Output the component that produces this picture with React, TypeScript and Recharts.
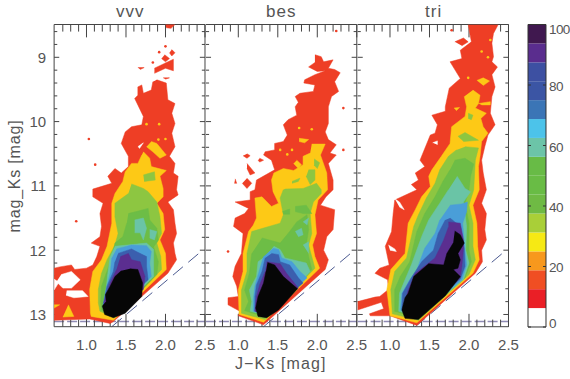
// J-Ks vs mag_Ks filled density contours: vvv, bes, tri panels with a colour bar
import { Bar, BarChart, ReferenceLine, Scatter, ScatterChart, XAxis, YAxis } from 'recharts';

type Pt = [number, number];

const xMajor = [1, 1.5, 2, 2.5];
const xMinor = [0.7, 0.8, 0.9, 1.1, 1.2, 1.3, 1.4, 1.6, 1.7, 1.8, 1.9, 2.1, 2.2, 2.3, 2.4];
const yMajor = [9, 10, 11, 12, 13];
const yMinor = [8.6, 8.8, 9.2, 9.4, 9.6, 9.8, 10.2, 10.4, 10.6, 10.8, 11.2, 11.4, 11.6, 11.8, 12.2, 12.4, 12.6, 12.8];
const barTicks = [0, 20, 40, 60, 80, 100];
const barLevels = ['#ffffff', '#ea1f26', '#f04e23', '#f7981d', '#f6e914', '#a9cf38', '#6fba44', '#69bc45', '#68bb46', '#6cc4a8', '#4cc3ea', '#3b75b6', '#3b55a4', '#3d50a2', '#5a2d8e', '#40184f'];
const barStep = [6.25];

const vvvRed: Pt[][] = [
  [[1.89, 9.35], [2.01, 9.4], [2.03, 9.66], [2.12, 9.72], [2.08, 9.87], [2.12, 10.03], [2.08, 10.18], [2.12, 10.39], [2.05, 10.54], [2.12, 10.65], [2.1, 10.8], [2.16, 10.85], [2.14, 11.06], [2.16, 11.14], [2.03, 11.25], [2.1, 11.37], [2.12, 11.58], [2.14, 11.74], [2.1, 11.89], [2.12, 12.05], [2.14, 12.15], [2.03, 12.36], [1.34, 13.11], [1.3, 13.14], [1.04, 13.07], [0.59, 13.09], [0.59, 12.28], [0.66, 12.26], [0.81, 12.23], [0.85, 12.3], [1, 12.28], [1.08, 12.23], [1.13, 12.1], [1.17, 11.94], [1.06, 11.89], [1.17, 11.79], [1.19, 11.63], [1.17, 11.43], [1.21, 11.27], [1.08, 11.17], [1.08, 11.05], [1.32, 10.96], [1.27, 10.85], [1.36, 10.73], [1.44, 10.8], [1.53, 10.7], [1.53, 10.54], [1.44, 10.34], [1.49, 10.16], [1.57, 10.08], [1.7, 10.05], [1.72, 9.92], [1.61, 9.64], [1.65, 9.59], [1.65, 9.46], [1.7, 9.43], [1.72, 9.56], [1.82, 9.51], [1.84, 9.38]],
  [[2, 8.49], [2.12, 8.49], [2.07, 8.55], [2.01, 8.54]],
  [[2.08, 8.88], [2.12, 8.93], [2.08, 8.98], [2.05, 8.93]],
  [[1.99, 8.96], [2.05, 9.02], [2, 9.07], [1.95, 9.02]],
  [[1.86, 9.17], [2.1, 9.03], [2.1, 9.21], [2, 9.17], [1.86, 9.25]],
  [[1.65, 9.16], [1.73, 9.16], [1.68, 9.19]],
  [[1.97, 9.32], [2.05, 9.32], [2, 9.34]],
];
const vvvHoles: Pt[][] = [
  [[0.68, 12.38], [0.81, 12.33], [0.92, 12.46], [0.81, 12.59], [0.7, 12.59], [0.62, 12.49]],
  [[0.59, 12.45], [0.65, 12.5], [0.59, 12.62]],
  [[0.75, 12.63], [0.95, 12.63], [1.02, 12.72], [0.84, 12.74], [0.74, 12.7]],
  [[1.65, 10.39], [1.72, 10.33], [1.67, 10.42]],
];
const vvvGold: Pt[][] = [
  [[1.72, 10.47], [1.8, 10.57], [1.82, 10.7], [2.01, 10.76], [1.93, 10.85], [1.97, 11.04], [1.97, 11.17], [1.89, 11.27], [1.97, 11.43], [1.99, 11.68], [1.93, 11.84], [2, 12.05], [2.01, 12.3], [1.34, 13.09], [1.06, 13.03], [1.05, 12.98], [1.04, 12.61], [1.08, 12.33], [1.19, 12.15], [1.26, 11.94], [1.32, 11.58], [1.32, 11.27], [1.36, 11.12], [1.46, 10.93], [1.49, 10.78], [1.57, 10.65], [1.65, 10.65], [1.7, 10.52]],
  [[1.82, 10.31], [1.89, 10.34], [2.01, 10.52], [1.93, 10.57], [1.84, 10.47], [1.76, 10.39]],
  [[0.77, 12.85], [0.84, 13.03], [0.7, 13.04]],
  [[0.59, 12.85], [0.66, 12.85], [0.59, 12.9]],
];
const vvvGreen: Pt[][] = [
  [[1.72, 10.83], [1.86, 10.78], [1.87, 10.91], [1.73, 10.93]],
  [[1.57, 10.97], [1.72, 11.04], [1.78, 11.09], [1.89, 11.25], [1.93, 11.48], [1.95, 11.74], [1.89, 11.89], [1.94, 12.1], [1.95, 12.3], [1.36, 13.05], [1.17, 12.95], [1.15, 12.82], [1.15, 12.61], [1.19, 12.36], [1.26, 12.15], [1.36, 11.92], [1.4, 11.74], [1.36, 11.48], [1.36, 11.27], [1.53, 11.12]],
];
const vvvDeepGreen: Pt[][] = [
  [[1.53, 11.43], [1.63, 11.4], [1.78, 11.35], [1.8, 11.53], [1.89, 11.66], [1.91, 11.84], [1.85, 11.95], [1.91, 12.18], [1.89, 12.38], [1.38, 13.02], [1.19, 12.93], [1.18, 12.8], [1.19, 12.56], [1.25, 12.36], [1.32, 12.12], [1.36, 11.89], [1.46, 11.79], [1.51, 11.58]],
];
const vvvTeal: Pt[][] = [
  [[1.61, 11.53], [1.72, 11.5], [1.76, 11.66], [1.72, 11.84], [1.68, 11.73], [1.61, 11.73]],
  [[1.8, 11.68], [1.89, 11.71], [1.86, 11.84], [1.8, 11.81]],
  [[1.36, 11.94], [1.76, 11.89], [1.85, 11.99], [1.85, 12.18], [1.85, 12.41], [1.38, 12.98], [1.21, 12.9], [1.25, 12.59], [1.27, 12.36], [1.3, 12.1]],
];
const vvvSky: Pt[][] = [[[1.38, 11.98], [1.57, 11.92], [1.76, 11.93], [1.82, 12.02], [1.8, 12.2], [1.82, 12.41], [1.38, 12.95], [1.21, 12.87], [1.25, 12.59], [1.3, 12.36], [1.32, 12.12]]];
const vvvBlue: Pt[][] = [[[1.4, 12.05], [1.57, 11.98], [1.63, 12.02], [1.76, 12.1], [1.76, 12.25], [1.78, 12.46], [1.38, 12.92], [1.21, 12.85], [1.26, 12.56], [1.34, 12.33], [1.36, 12.18]]];
const vvvPurple: Pt[][] = [[[1.43, 12.1], [1.53, 12.05], [1.57, 12.15], [1.68, 12.18], [1.74, 12.41], [1.72, 12.61], [1.38, 12.9], [1.22, 12.82], [1.3, 12.51], [1.38, 12.3]]];
const vvvBlack: Pt[][] = [[[1.55, 12.29], [1.65, 12.3], [1.71, 12.51], [1.7, 12.72], [1.49, 12.98], [1.34, 13.05], [1.23, 13], [1.2, 12.87], [1.25, 12.8], [1.24, 12.69], [1.3, 12.56], [1.36, 12.41], [1.44, 12.32]]];
const vvvRedSpecks: Pt[] = [[2, 8.83], [1.92, 8.92], [1.84, 9.08], [1.03, 10.27], [1.11, 10.67], [0.87, 11.55]];
const vvvGoldSpecks: Pt[] = [[1.76, 10.04], [1.92, 10.04], [1.91, 10.28], [2, 10.27]];

const besRed: Pt[][] = [
  [[1.97, 8.96], [2.05, 8.99], [2.08, 9.07], [2.2, 9.04], [2.14, 9.17], [2.22, 9.19], [2.29, 9.24], [2.22, 9.38], [2.27, 9.53], [2.18, 9.61], [2.14, 9.77], [2.14, 10.03], [2.1, 10.16], [2.14, 10.28], [2.24, 10.36], [2.16, 10.49], [2.24, 10.52], [2.14, 10.65], [2.2, 10.91], [2.2, 11.06], [2.11, 11.17], [2.04, 11.3], [2.22, 11.37], [2.2, 11.68], [2.12, 11.79], [2.08, 12], [2.14, 12.15], [2.1, 12.3], [1.32, 13.16], [1, 13.02], [1.02, 12.95], [0.87, 12.85], [0.87, 12.74], [1, 12.72], [0.98, 12.56], [0.93, 12.41], [0.96, 12.25], [1.04, 12.05], [1.06, 11.74], [0.94, 11.63], [0.96, 11.5], [1.08, 11.43], [1.13, 11.35], [0.96, 11.25], [1.15, 11.22], [1.15, 11.09], [1.21, 11.06], [1.23, 10.91], [1.46, 10.75], [1.42, 10.6], [1.32, 10.52], [1.34, 10.47], [1.46, 10.44], [1.46, 10.34], [1.57, 10.31], [1.62, 10.21], [1.57, 10.05], [1.63, 9.97], [1.74, 9.9], [1.72, 9.77], [1.76, 9.7], [1.72, 9.61], [1.78, 9.56], [1.95, 9.53], [1.97, 9.43], [1.83, 9.4], [1.84, 9.35], [1.97, 9.27], [2.1, 9.21], [2, 9.22], [1.89, 9.15], [1.97, 9.08]],
  [[1.11, 10.5], [1.15, 10.53], [1.11, 10.57], [1.06, 10.53]],
  [[1.11, 10.65], [1.21, 10.8], [1.15, 10.83], [1.11, 10.73]],
  [[1.27, 10.57], [1.32, 10.6], [1.27, 10.63], [1.25, 10.6]],
  [[1.11, 10.88], [1.17, 10.96], [1.11, 11.04], [1.05, 10.96]],
  [[0.96, 10.89], [0.98, 10.96], [0.95, 10.96]],
];
const besGold: Pt[][] = [
  [[1.74, 10.6], [1.8, 10.67], [1.76, 10.73], [1.7, 10.65]],
  [[1.77, 10.26], [1.89, 10.28], [1.84, 10.33], [1.77, 10.31]],
  [[1.93, 10.35], [2.1, 10.35], [2.04, 10.52], [2.12, 10.8], [2.13, 11.06], [2.01, 11.22], [1.97, 11.45], [1.99, 11.74], [1.94, 11.92], [1.97, 12.1], [2.03, 12.28], [1.32, 13.12], [1.01, 13], [1, 12.62], [1.06, 12.33], [1.06, 12.05], [1.13, 11.71], [1.19, 11.61], [1.23, 11.5], [1.21, 11.19], [1.3, 11.17], [1.42, 11.32], [1.51, 11.27], [1.44, 11.09], [1.42, 10.91], [1.45, 10.8], [1.57, 10.73], [1.7, 10.76], [1.82, 10.67], [1.82, 10.54], [1.91, 10.49]],
];
const besGreen: Pt[][] = [
  [[1.96, 10.58], [2.03, 10.64], [2, 10.73], [1.96, 10.68]],
  [[1.89, 10.75], [1.97, 10.75], [1.97, 10.91], [1.91, 10.98], [1.86, 10.85]],
  [[1.68, 10.93], [1.78, 10.88], [1.76, 10.93], [1.68, 10.96]],
  [[1.59, 11.05], [1.82, 11.04], [1.99, 10.96], [2.05, 11.06], [2.05, 11.12], [1.95, 11.25], [1.91, 11.43], [1.93, 11.74], [1.89, 11.92], [1.93, 12.1], [1.97, 12.28], [1.34, 13.08], [1.04, 12.98], [1.04, 12.62], [1.11, 12.33], [1.11, 12.05], [1.17, 11.71], [1.53, 11.58], [1.57, 11.45], [1.53, 11.19], [1.57, 11.06]],
];
const besDeepGreen: Pt[][] = [
  [[1.3, 11.81], [1.53, 11.89], [1.65, 11.71], [1.74, 11.56], [1.87, 11.45], [1.89, 11.68], [1.86, 11.92], [1.9, 12.15], [1.93, 12.3], [1.36, 13.05], [1.08, 12.94], [1.13, 12.8], [1.08, 12.62], [1.14, 12.36], [1.17, 12.05]],
  [[1.72, 11.32], [1.86, 11.3], [1.93, 11.43], [1.82, 11.43], [1.72, 11.4]],
  [[1.56, 11.4], [1.65, 11.36], [1.65, 11.44], [1.57, 11.44]],
];
const besTeal: Pt[][] = [
  [[1.72, 11.71], [1.8, 11.66], [1.82, 11.76], [1.76, 11.79]],
  [[1.82, 11.56], [1.89, 11.5], [1.87, 11.61]],
  [[1.82, 11.92], [1.89, 11.87], [1.89, 12.05]],
  [[1.45, 11.94], [1.53, 11.99], [1.59, 12.12], [1.86, 12.2], [1.91, 12.33], [1.38, 13.02], [1.15, 12.95], [1.17, 12.8], [1.14, 12.62], [1.23, 12.41], [1.25, 12.18], [1.34, 12.1]],
];
const besSky: Pt[][] = [[[1.44, 11.97], [1.51, 11.99], [1.55, 12.12], [1.68, 12.18], [1.78, 12.33], [1.87, 12.43], [1.38, 13], [1.19, 12.95], [1.19, 12.77], [1.21, 12.56], [1.27, 12.3], [1.32, 12.1]]];
const besBlue: Pt[][] = [[[1.42, 12.05], [1.51, 12.07], [1.53, 12.18], [1.65, 12.23], [1.76, 12.43], [1.82, 12.51], [1.38, 12.98], [1.21, 12.95], [1.21, 12.72], [1.23, 12.54], [1.3, 12.33], [1.34, 12.12]]];
const besPurple: Pt[][] = [[[1.36, 12.18], [1.53, 12.21], [1.61, 12.36], [1.76, 12.59], [1.38, 12.97], [1.21, 12.95], [1.23, 12.72], [1.27, 12.54], [1.34, 12.33]]];
const besBlack: Pt[][] = [[[1.37, 12.19], [1.46, 12.23], [1.57, 12.41], [1.75, 12.6], [1.51, 12.93], [1.36, 13.05], [1.25, 13.03], [1.22, 12.9], [1.25, 12.72], [1.32, 12.51], [1.35, 12.33]]];
const besRedSpecks: Pt[] = [[2.24, 8.59], [2.33, 9.79], [2.33, 10.44], [0.87, 12.02]];
const besGoldSpecks: Pt[] = [[1.77, 10.1], [1.53, 10.44], [1.68, 10.44], [1.62, 10.51], [1.93, 10.12]];

const triRed: Pt[][] = [
  [[2.37, 8.49], [2.31, 8.63], [2.29, 8.78], [2.31, 8.99], [2.29, 9.07], [2.36, 9.15], [2.29, 9.27], [2.33, 9.46], [2.29, 9.61], [2.27, 9.87], [2.33, 10.05], [2.24, 10.21], [2.2, 10.39], [2.16, 10.6], [2.18, 10.8], [2.22, 11.06], [2.16, 11.27], [2.22, 11.43], [2.2, 11.68], [2.22, 11.84], [2.16, 12], [2.17, 12.18], [2.08, 12.36], [1.34, 13.17], [1, 13.02], [0.75, 13.02], [0.74, 12.99], [0.92, 12.91], [0.89, 12.81], [0.59, 12.93], [0.59, 12.8], [0.81, 12.73], [0.87, 12.72], [0.98, 12.61], [0.97, 12.46], [0.81, 12.36], [0.87, 12.28], [0.99, 12.23], [0.94, 11.94], [1.02, 11.71], [1.04, 11.43], [1.06, 11.22], [1.34, 11.06], [1.27, 10.98], [1.36, 10.91], [1.32, 10.8], [1.44, 10.7], [1.38, 10.6], [1.51, 10.21], [1.57, 10.18], [1.6, 10.05], [1.53, 9.9], [1.7, 9.84], [1.7, 9.77], [1.75, 9.48], [1.89, 9.33], [1.76, 9.07], [1.91, 9.02], [1.89, 8.89], [2.03, 8.76], [1.99, 8.49]],
  [[1.82, 8.76], [1.93, 8.7], [1.99, 8.76], [1.91, 8.82]],
];
const triHoles: Pt[][] = [
  [[1.06, 11.2], [1.12, 11.25], [1.18, 11.37], [1.12, 11.33]],
  [[0.98, 11.92], [1.06, 11.98], [1.08, 12.02], [1, 12]],
  [[1.54, 10.33], [1.6, 10.3], [1.6, 10.36]],
];
const triGold: Pt[][] = [
  [[2.1, 9.36], [2.18, 9.32], [2.26, 9.37], [2.18, 9.44]],
  [[2.12, 9.72], [2.27, 9.69], [2.27, 9.74], [2.16, 9.74]],
  [[1.81, 9.79], [1.88, 9.78], [1.84, 9.83]],
  [[2.05, 9.51], [2.14, 9.59], [2.12, 9.72], [2.08, 9.79], [2.22, 9.87], [2.15, 9.95], [2.18, 10.08], [2.24, 10.18], [2.16, 10.31], [2.14, 10.54], [2.12, 10.7], [2.13, 11.06], [2.05, 11.3], [2.1, 11.58], [2.11, 11.94], [2.13, 12.15], [2.05, 12.36], [1.34, 13.13], [1, 13.02], [0.96, 12.61], [1.01, 12.3], [1.19, 12.05], [1.23, 11.58], [1.32, 11.37], [1.4, 11.17], [1.51, 11.01], [1.49, 10.85], [1.53, 10.75], [1.65, 10.54], [1.76, 10.34], [1.78, 10.08], [1.95, 9.92], [1.97, 9.77], [1.94, 9.61]],
];
const triGreen: Pt[][] = [
  [[1.86, 10.23], [1.95, 10.17], [2.12, 10.29], [1.93, 10.31]],
  [[1.99, 9.87], [2.05, 9.9], [2.03, 9.97], [1.99, 9.95]],
  [[1.95, 10.39], [2.12, 10.41], [2.08, 10.6], [2.06, 11.06], [2, 11.3], [2.05, 11.58], [2.05, 11.94], [2.08, 12.15], [2, 12.38], [1.36, 13.09], [1.03, 12.99], [1.01, 12.61], [1.06, 12.33], [1.21, 12.12], [1.3, 11.63], [1.36, 11.45], [1.46, 11.19], [1.57, 10.96], [1.63, 10.75], [1.74, 10.54], [1.84, 10.44]],
];
const triDeepGreen: Pt[][] = [[[1.82, 10.6], [1.95, 10.57], [2.06, 10.66], [2.02, 10.85], [2, 11.06], [1.95, 11.27], [2, 11.58], [2, 12], [2.03, 12.18], [1.95, 12.43], [1.36, 13.05], [1.06, 12.95], [1.06, 12.61], [1.13, 12.41], [1.25, 12.18], [1.34, 11.71], [1.44, 11.43], [1.57, 11.17], [1.67, 10.93], [1.76, 10.75]]];
const triTeal: Pt[][] = [[[1.85, 10.85], [1.95, 11.04], [2.02, 11.09], [1.93, 11.25], [1.97, 11.63], [1.96, 12], [2, 12.2], [1.93, 12.46], [1.36, 13.04], [1.11, 12.95], [1.12, 12.67], [1.19, 12.46], [1.27, 12.23], [1.4, 11.79], [1.49, 11.53], [1.63, 11.27], [1.74, 11.06]]];
const triSky: Pt[][] = [[[1.76, 11.3], [1.91, 11.28], [1.98, 11.25], [1.97, 11.4], [1.92, 11.58], [1.95, 12], [1.97, 12.23], [1.91, 12.46], [1.36, 13.03], [1.13, 12.93], [1.15, 12.67], [1.25, 12.46], [1.34, 12.3], [1.44, 11.97], [1.57, 11.74], [1.63, 11.53]]];
const triBlue: Pt[][] = [[[1.76, 11.5], [1.89, 11.63], [1.94, 11.97], [1.95, 12.25], [1.89, 12.45], [1.36, 13.02], [1.15, 12.91], [1.16, 12.67], [1.27, 12.43], [1.4, 12.18], [1.55, 12], [1.61, 11.74], [1.7, 11.53]]];
const triPurple: Pt[][] = [[[1.74, 11.56], [1.89, 11.58], [1.93, 11.84], [1.93, 11.97], [1.91, 12.25], [1.89, 12.43], [1.36, 13.02], [1.17, 12.9], [1.23, 12.62], [1.32, 12.36], [1.51, 12.18], [1.57, 12.12], [1.61, 12.02], [1.68, 11.84], [1.74, 11.64]]];
const triBlack: Pt[][] = [[[1.82, 11.7], [1.89, 11.76], [1.94, 11.89], [1.86, 12.05], [1.89, 12.15], [1.86, 12.28], [1.8, 12.3], [1.89, 12.41], [1.7, 12.71], [1.36, 13.08], [1.19, 13.06], [1.15, 12.93], [1.19, 12.74], [1.23, 12.67], [1.3, 12.41], [1.49, 12.21], [1.68, 12.23], [1.72, 12.05], [1.8, 11.89]]];
const triRedSpecks: Pt[] = [[1.78, 8.58]];
const triGoldSpecks: Pt[] = [[2.24, 9], [2.27, 8.73], [1.99, 9.32], [2.16, 8.91]];

const RED = '#ee3e25';
const GOLD = '#fdc916';
const GREEN = '#8dc641';
const DEEP_GREEN = '#6dbd46';
const TEAL = '#6ac4a6';
const SKY = '#4a9ed8';
const BLUE = '#3b5fae';
const PURPLE = '#5b2e90';
const BLACK = '#060606';
const INK = '#555555';
const FRAME = '#444444';

const FONT = '"Liberation Sans", sans-serif';
const THIN = 0.01;
const xMin = 0.59;
const xMax = 2.5;
const yTop = 8.49;
const yBottom = 13.19;
const xDomain: [number, number] = [xMin, xMax];
const yDomain: [number, number] = [yTop, yBottom];
const floorLine = 13.11;
const limitStart = { x: 1.32, y: 13.19 };
const limitEnd = { x: 2.47, y: 12 };

interface PanelProps {
  left: number;
  right: number;
  showY?: boolean;
  layers: [string, Pt[][]][];
  redSpecks: Pt[];
  goldSpecks: Pt[];
}

const toRows = (poly: Pt[]) => poly.map(([x, y]) => ({ x, y }));
const noPoint = () => <g />;

// inward tick marks, sized in axis units, on all four sides of a panel
function tickSegments() {
  const out: { x: number; y: number }[][] = [];
  const xTick = (v: number, len: number) => {
    out.push([{ x: v, y: yBottom }, { x: v, y: yBottom - len }]);
    out.push([{ x: v, y: yTop }, { x: v, y: yTop + len }]);
  };
  const yTick = (v: number, len: number) => {
    out.push([{ x: xMin, y: v }, { x: xMin + len, y: v }]);
    out.push([{ x: xMax, y: v }, { x: xMax - len, y: v }]);
  };
  xMajor.forEach((v) => xTick(v, 0.2));
  xMinor.forEach((v) => xTick(v, 0.11));
  yMajor.forEach((v) => yTick(v, 0.065));
  yMinor.forEach((v) => yTick(v, 0.04));
  return out;
}

function Panel({ left, right, showY, layers, redSpecks, goldSpecks }: PanelProps) {
  const frame = { stroke: FRAME, strokeWidth: 1 };
  return (
    <div style={{ position: 'absolute', left: 0, top: 0 }}>
      <ScatterChart width={570} height={379} margin={{ left, right: 570 - right, top: 24.5, bottom: 52.3 }}>
        <XAxis xAxisId="b" dataKey="x" type="number" domain={xDomain} allowDataOverflow orientation="bottom" height={THIN} ticks={xMajor} interval={0} tickSize={0} tickMargin={13} tick={{ fontSize: 15, fill: INK, fontFamily: FONT }} tickFormatter={(v: number) => v.toFixed(1)} tickLine={false} axisLine={frame} />
        <XAxis xAxisId="t" dataKey="x" type="number" domain={xDomain} allowDataOverflow orientation="top" height={THIN} ticks={xMajor} interval={0} tick={false} tickLine={false} axisLine={frame} />
        <YAxis yAxisId="l" dataKey="y" type="number" domain={yDomain} reversed allowDataOverflow orientation="left" width={THIN} ticks={yMajor} interval={0} tickSize={0} tickMargin={8} tick={showY ? { fontSize: 15, fill: INK, fontFamily: FONT } : false} tickLine={false} axisLine={showY ? frame : false} />
        <YAxis yAxisId="r" dataKey="y" type="number" domain={yDomain} reversed allowDataOverflow orientation="right" width={THIN} ticks={yMajor} interval={0} tick={false} tickLine={false} axisLine={frame} />
        {layers.flatMap(([color, polys], i) =>
          polys.map((poly, j) => (
            <Scatter
              key={`${i}-${j}`}
              xAxisId="b"
              yAxisId="l"
              data={toRows(poly)}
              shape={noPoint}
              line={{ fill: color, stroke: color, strokeWidth: 0.5 }}
              lineType="joint"
              isAnimationActive={false}
            />
          )),
        )}
        <Scatter xAxisId="b" yAxisId="l" data={toRows(redSpecks)} fill={RED} shape={(p: any) => <circle cx={p.cx} cy={p.cy} r={1.3} fill={RED} />} isAnimationActive={false} />
        <Scatter xAxisId="b" yAxisId="l" data={toRows(goldSpecks)} fill={GOLD} shape={(p: any) => <circle cx={p.cx} cy={p.cy} r={1.3} fill={GOLD} />} isAnimationActive={false} />
        <ReferenceLine xAxisId="b" yAxisId="l" y={floorLine} stroke="#8f8bb5" strokeWidth={1.5} strokeDasharray="10 3" ifOverflow="visible" />
        <ReferenceLine xAxisId="b" yAxisId="l" segment={[limitStart, limitEnd]} stroke="#4c5a90" strokeWidth={1} strokeDasharray="13 7" ifOverflow="visible" />
        {tickSegments().map((seg, i) => (
          <ReferenceLine key={i} xAxisId="b" yAxisId="l" segment={seg} stroke={FRAME} strokeWidth={1} ifOverflow="visible" />
        ))}
      </ScatterChart>
    </div>
  );
}

function ColorBar() {
  const row: Record<string, number | string> = { name: 'level' };
  barLevels.forEach((_, i) => {
    row[`l${i}`] = barStep[0];
  });
  const barTick = (p: any) => {
    const v = p.payload.value;
    const shift = v === 0 ? 1 : v === 100 ? 9 : 6;
    return (
      <g>
        <line x1={p.x - 3} x2={p.x} y1={p.y} y2={p.y} stroke="#333" />
        <line x1={p.x - 18} x2={p.x - 15} y1={p.y} y2={p.y} stroke="#333" />
        <text x={p.x + 3} y={p.y + shift} fontSize={13.5} letterSpacing={-0.6} fill={INK} fontFamily={FONT}>
          {v}
        </text>
      </g>
    );
  };
  const edge = { stroke: '#333' };
  return (
    <div style={{ position: 'absolute', left: 0, top: 0 }}>
      <BarChart width={570} height={379} data={[row]} barCategoryGap={0} margin={{ left: 528, right: 24, top: 24.5, bottom: 52 }}>
        <XAxis dataKey="name" height={THIN} tick={false} tickLine={false} axisLine={edge} />
        <XAxis xAxisId="top" dataKey="name" orientation="top" height={THIN} tick={false} tickLine={false} axisLine={edge} />
        <YAxis yAxisId="l" orientation="left" width={THIN} domain={[0, 100]} tick={false} tickLine={false} axisLine={edge} />
        <YAxis yAxisId="r" orientation="right" width={THIN} domain={[0, 100]} ticks={barTicks} interval={0} tickSize={0} tickMargin={0} tick={barTick} tickLine={false} axisLine={edge} />
        {barLevels.map((c, i) => (
          <Bar key={c + i} yAxisId="r" dataKey={`l${i}`} stackId="a" fill={c} stroke="none" isAnimationActive={false} />
        ))}
      </BarChart>
    </div>
  );
}

const labelStyle = { position: 'absolute', fontFamily: FONT, color: INK, whiteSpace: 'nowrap', lineHeight: 1 } as const;

export default function App() {
  return (
    <div style={{ position: 'fixed', left: 0, top: 0, width: 570, height: 379, overflow: 'hidden', background: '#fff' }}>
      <Panel left={54.1} right={205} showY layers={[[RED, vvvRed], ['#ffffff', vvvHoles], [GOLD, vvvGold], [GREEN, vvvGreen], [DEEP_GREEN, vvvDeepGreen], [TEAL, vvvTeal], [SKY, vvvSky], [BLUE, vvvBlue], [PURPLE, vvvPurple], [BLACK, vvvBlack]]} redSpecks={vvvRedSpecks} goldSpecks={vvvGoldSpecks} />
      <Panel left={205.9} right={356.8} layers={[[RED, besRed], [GOLD, besGold], [GREEN, besGreen], [DEEP_GREEN, besDeepGreen], [TEAL, besTeal], [SKY, besSky], [BLUE, besBlue], [PURPLE, besPurple], [BLACK, besBlack]]} redSpecks={besRedSpecks} goldSpecks={besGoldSpecks} />
      <Panel left={357.6} right={508.5} layers={[[RED, triRed], ['#ffffff', triHoles], [GOLD, triGold], [GREEN, triGreen], [DEEP_GREEN, triDeepGreen], [TEAL, triTeal], [SKY, triSky], [BLUE, triBlue], [PURPLE, triPurple], [BLACK, triBlack]]} redSpecks={triRedSpecks} goldSpecks={triGoldSpecks} />
      <ColorBar />
      <div style={{ ...labelStyle, left: 116, top: 3, fontSize: 17, letterSpacing: 1 }}>vvv</div>
      <div style={{ ...labelStyle, left: 266, top: 3, fontSize: 17, letterSpacing: 1 }}>bes</div>
      <div style={{ ...labelStyle, left: 425, top: 3, fontSize: 17, letterSpacing: 1 }}>tri</div>
      <div style={{ ...labelStyle, left: 235, top: 356, fontSize: 16, letterSpacing: 1.1 }}>J−Ks [mag]</div>
      <div style={{ ...labelStyle, left: 15, top: 176, fontSize: 16, letterSpacing: 0.8, transform: 'translate(-50%, -50%) rotate(-90deg)' }}>mag_Ks [mag]</div>
    </div>
  );
}
